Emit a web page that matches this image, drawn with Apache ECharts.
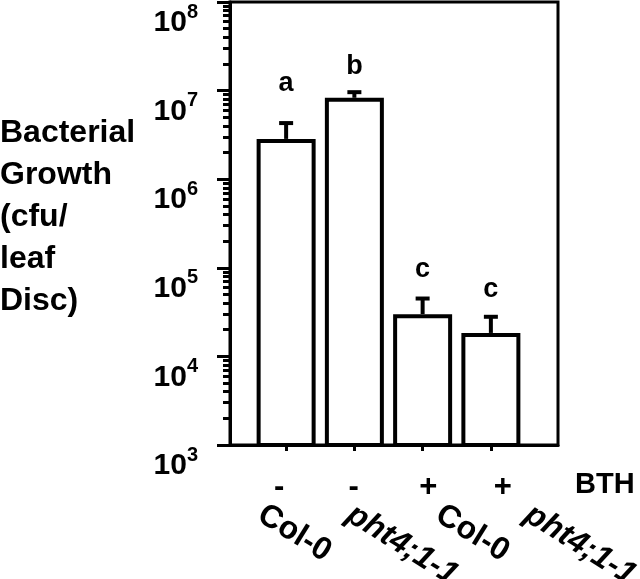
<!DOCTYPE html>
<html><head><meta charset="utf-8">
<script src="https://cdn.jsdelivr.net/npm/echarts@6/dist/echarts.min.js"></script>
<style>html,body{margin:0;padding:0;background:#fff}#c{width:640px;height:579px}</style>
</head><body><div id="c"></div>
<script>
// ---- data ----
const genotypes = ['Col-0', 'pht4;1-1', 'Col-0', 'pht4;1-1'];
const italicGenotype = [false, true, false, true];
const bthLabels = ['-', '-', '+', '+'];
const growth = [2.85e6, 8.3e6, 3.0e4, 1.84e4];
const errorUpper = [4.3e6, 9.6e6, 4.5e4, 2.8e4];
const groupLetters = ['a', 'b', 'c', 'c'];
const letterBaseline = [9.8e6, 1.55e7, 7.8e4, 4.7e4];
const yMajorExponents = [3, 4, 5, 6, 7, 8];
const yMinorMultipliers = [2, 3, 4, 5, 6, 7, 8, 9];
const yTitleLines = ['Bacterial', 'Growth', '(cfu/', 'leaf', 'Disc)'];
const treatmentName = 'BTH';

const FONT = '"Liberation Sans", Arial, Helvetica, sans-serif';
const yMin = Math.pow(10, yMajorExponents[0]);
const yMax = Math.pow(10, yMajorExponents[yMajorExponents.length - 1]);
const majorValues = yMajorExponents.map(e => Math.pow(10, e));
const minorValues = [];
yMajorExponents.slice(0, -1).forEach(e => yMinorMultipliers.forEach(m => minorValues.push(m * Math.pow(10, e))));

const gridBase = {top: 2, bottom: 134, outerBoundsMode: 'none', containLabel: false};
const chart = echarts.init(document.getElementById('c'), null, {renderer: 'canvas'});
const option = {
  animation: false,
  backgroundColor: '#fff',
  grid: [
    Object.assign({left: 230, right: 82, show: true, borderColor: '#000', borderWidth: 3, backgroundColor: 'transparent'}, gridBase),
    Object.assign({left: 252, right: 115}, gridBase),   // bars
    Object.assign({left: 216, right: 68}, gridBase),    // genotype labels
    Object.assign({left: 242, right: 100}, gridBase)    // BTH +/- labels
  ],
  xAxis: [
    {gridIndex: 0, type: 'value', min: 0, max: 1, axisLine: {show: true, lineStyle: {color: '#000', width: 3}},
     axisTick: {show: false}, axisLabel: {show: false}, splitLine: {show: false}},
    {gridIndex: 1, type: 'category', data: bthLabels, position: 'bottom',
     axisLine: {show: false}, axisTick: {show: true, alignWithLabel: true, length: 6, lineStyle: {color: '#000', width: 3}},
     axisLabel: {show: false}},
    {gridIndex: 2, type: 'category', data: genotypes, position: 'bottom',
     axisLine: {show: false}, axisTick: {show: false},
     axisLabel: {interval: 0, rotate: -32, margin: 67, color: '#000', hideOverlap: false,
       formatter: (v, i) => italicGenotype[i] ? '{i|' + v + '}' : '{n|' + v + '}',
       rich: {
         n: {fontFamily: FONT, fontSize: 32, fontWeight: 'bold', color: '#000'},
         i: {fontFamily: FONT, fontSize: 32, fontWeight: 'bold', fontStyle: 'italic', color: '#000'}
       }}},
    {gridIndex: 3, type: 'category', data: bthLabels, position: 'bottom',
     axisLine: {show: false}, axisTick: {show: false},
     axisLabel: {interval: 0, margin: 26, color: '#000', fontFamily: FONT, fontWeight: 'bold', fontSize: 31, lineHeight: 32}}
  ],
  yAxis: [
    {gridIndex: 0, type: 'log', logBase: 10, min: yMin, max: yMax, position: 'left',
     axisLine: {show: true, lineStyle: {color: '#000', width: 3}},
     axisTick: {show: true, length: 13, customValues: majorValues, lineStyle: {color: '#000', width: 3}},
     splitLine: {show: false},
     axisLabel: {customValues: majorValues, margin: 32, verticalAlign: 'top', lineHeight: 36,
       formatter: v => '{b|10}{s|' + Math.round(Math.log10(v)) + '}',
       rich: {
         b: {fontFamily: FONT, fontSize: 30, fontWeight: 'bold', color: '#000', lineHeight: 36, verticalAlign: 'bottom'},
         s: {fontFamily: FONT, fontSize: 20, fontWeight: 'bold', color: '#000', lineHeight: 24, verticalAlign: 'top'}
       }}},
    {gridIndex: 0, type: 'log', logBase: 10, min: yMin, max: yMax, position: 'left',
     axisLine: {show: false}, splitLine: {show: false}, axisLabel: {show: false},
     axisTick: {show: true, length: 7, customValues: minorValues, lineStyle: {color: '#000', width: 3}}},
    {gridIndex: 1, type: 'log', logBase: 10, min: yMin, max: yMax, show: false},
    {gridIndex: 2, type: 'value', show: false},
    {gridIndex: 3, type: 'value', show: false}
  ],
  series: [
    {type: 'bar', xAxisIndex: 1, yAxisIndex: 2, data: growth, barWidth: 59,
     itemStyle: {color: '#fff', borderColor: '#000', borderWidth: 4}},
    {type: 'custom', xAxisIndex: 1, yAxisIndex: 2,
     data: growth.map((g, i) => [i, g, errorUpper[i]]),
     renderItem: (params, api) => {
       const p0 = api.coord([api.value(0), api.value(1)]);
       const p1 = api.coord([api.value(0), api.value(2)]);
       const st = {stroke: '#000', lineWidth: 4};
       return {type: 'group', children: [
         {type: 'line', shape: {x1: p0[0], y1: p0[1], x2: p1[0], y2: p1[1]}, style: st},
         {type: 'line', shape: {x1: p1[0] - 7, y1: p1[1], x2: p1[0] + 7, y2: p1[1]}, style: st}
       ]};
     }},
    {type: 'custom', xAxisIndex: 1, yAxisIndex: 2,
     data: letterBaseline.map((v, i) => [i, v]),
     renderItem: (params, api) => {
       const p = api.coord([api.value(0), api.value(1)]);
       return {type: 'text', x: p[0], y: p[1] + 6,
         style: {text: groupLetters[params.dataIndex], fill: '#000', font: 'bold 27px ' + FONT,
           textAlign: 'center', textVerticalAlign: 'bottom', align: 'center', verticalAlign: 'bottom'}};
     }}
  ],
  graphic: [
    {type: 'text', left: 0, top: 112,
     style: {text: yTitleLines.join('\n'), fill: '#000', font: 'bold 32px ' + FONT, lineHeight: 42}},
    {type: 'text', left: 575, top: 470,
     style: {text: treatmentName, fill: '#000', font: 'bold 29px ' + FONT}}
  ]
};
chart.setOption(option);
</script>
</body></html>
